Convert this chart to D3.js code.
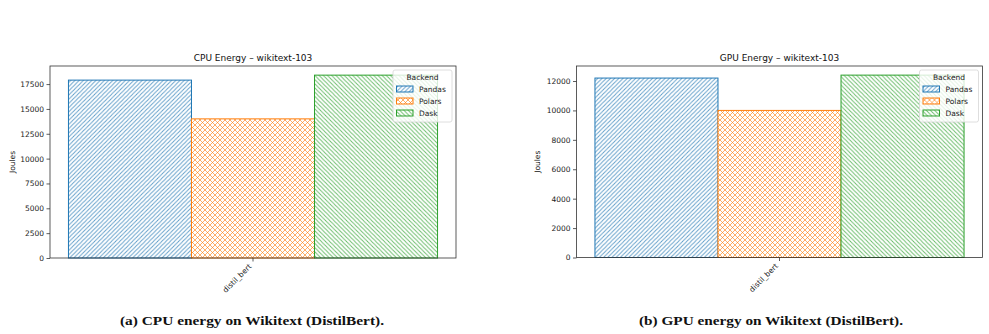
<!DOCTYPE html>
<html><head><meta charset="utf-8">
<script src="https://cdn.jsdelivr.net/npm/d3@7"></script>
<style>body{margin:0;background:#fff;} svg{display:block;}</style>
</head><body>
<svg id="chart" width="989" height="334"></svg>
<script>
const categories = ["distil_bert"];
const backends = ["Pandas", "Polars", "Dask"];
const cpuValues = [17900, 14000, 18400];
const gpuValues = [12200, 10000, 12400];
const cpuTicks = [0, 2500, 5000, 7500, 10000, 12500, 15000, 17500];
const gpuTicks = [0, 2000, 4000, 6000, 8000, 10000, 12000];
const titles = ["CPU Energy \u2013 wikitext-103", "GPU Energy \u2013 wikitext-103"];
const captions = ["(a) CPU energy on Wikitext (DistilBert).", "(b) GPU energy on Wikitext (DistilBert)."];
const colors = ["#1f77b4", "#ff7f0e", "#2ca02c"];
const hatches = ["/", "x", "\\"];

const svg = d3.select("#chart");
const defs = svg.append("defs");

function makePattern(id, type, color) {
  const s = type === "x" ? 5 : 4.2;
  const p = defs.append("pattern").attr("id", id).attr("patternUnits", "userSpaceOnUse")
    .attr("width", s).attr("height", s);
  p.append("rect").attr("width", s).attr("height", s).attr("fill", "#fff");
  let d;
  if (type === "/") d = `M0,${s} L${s},0 M${-s/2},${s/2} L${s/2},${-s/2} M${s/2},${s*1.5} L${s*1.5},${s/2}`;
  else if (type === "\\") d = `M0,0 L${s},${s} M${-s/2},${s/2} L${s/2},${s*1.5} M${s/2},${-s/2} L${s*1.5},${s/2}`;
  else d = `M0,0 L${s},${s} M0,${s} L${s},0`;
  p.append("path").attr("d", d).attr("stroke", color).attr("stroke-width", type === "x" ? 0.9 : 1.0)
    .attr("stroke-opacity", 0.7).attr("fill", "none");
}
backends.forEach((b, i) => makePattern("h" + i, hatches[i], colors[i]));

const panels = [
  {x0: 50, x1: 456, y0: 66, y1: 258, values: cpuValues, ticks: cpuTicks, ylabX: 12, title: titles[0], caption: captions[0], capX: 252},
  {x0: 576.5, x1: 982.5, y0: 66, y1: 257.5, values: gpuValues, ticks: gpuTicks, ylabX: 537, title: titles[1], caption: captions[1], capX: 771}
];

const font = "DejaVu Sans, sans-serif";

panels.forEach(P => {
  const g = svg.append("g");
  const ymax = d3.max(P.values) * 1.05;
  const y = d3.scaleLinear().domain([0, ymax]).range([P.y1, P.y0]);
  const xGroup = d3.scaleBand().domain(categories).range([P.x0, P.x1]).paddingInner(0).paddingOuter(0.05);
  const xSub = d3.scaleBand().domain(backends).range([0, xGroup.bandwidth()]);

  categories.forEach(cat => {
    backends.forEach((b, i) => {
      g.append("rect")
        .attr("x", xGroup(cat) + xSub(b))
        .attr("y", y(P.values[i]))
        .attr("width", xSub.bandwidth())
        .attr("height", y(0) - y(P.values[i]))
        .attr("fill", `url(#h${i})`)
        .attr("stroke", colors[i]).attr("stroke-width", 1);
    });
  });

  const yAxis = d3.axisLeft(y).tickValues(P.ticks).tickSize(3.5).tickPadding(2.5).tickFormat(d3.format("d"));
  const ya = g.append("g").attr("transform", `translate(${P.x0},0)`).call(yAxis);
  ya.select(".domain").remove();
  ya.selectAll("text").attr("font-family", font).attr("font-size", 7.5).attr("fill", "#222");
  ya.selectAll("line").attr("stroke", "#333").attr("stroke-width", 0.8);

  const xAxis = d3.axisBottom(xGroup).tickSize(3.5).tickPadding(2);
  const xa = g.append("g").attr("transform", `translate(0,${P.y1})`).call(xAxis);
  xa.select(".domain").remove();
  xa.selectAll("line").attr("stroke", "#333").attr("stroke-width", 0.8);
  xa.selectAll("text").attr("font-family", font).attr("font-size", 7.5).attr("fill", "#222")
    .attr("text-anchor", "end").attr("dy", null).attr("y", 0)
    .attr("transform", "translate(-1,9) rotate(-45)");

  g.append("rect").attr("x", P.x0).attr("y", P.y0).attr("width", P.x1 - P.x0).attr("height", P.y1 - P.y0)
    .attr("fill", "none").attr("stroke", "#333").attr("stroke-width", 0.8);

  g.append("text").attr("x", (P.x0 + P.x1) / 2).attr("y", P.y0 - 5).attr("text-anchor", "middle")
    .attr("font-family", font).attr("font-size", 9).attr("fill", "#111").text(P.title);

  g.append("text").attr("transform", `translate(${P.ylabX},${(P.y0 + P.y1) / 2}) rotate(-90)`)
    .attr("text-anchor", "middle").attr("dy", "0.35em")
    .attr("font-family", font).attr("font-size", 7.5).attr("fill", "#111").text("Joules");

  const lx = P.x1 - 63, ly = P.y0 + 4;
  const lg = g.append("g").attr("transform", `translate(${lx},${ly})`);
  lg.append("rect").attr("width", 59).attr("height", 52).attr("rx", 2)
    .attr("fill", "#fff").attr("fill-opacity", 0.8).attr("stroke", "#d5d5d5").attr("stroke-width", 0.8);
  lg.append("text").attr("x", 29.5).attr("y", 9.5).attr("text-anchor", "middle")
    .attr("font-family", font).attr("font-size", 7.5).attr("fill", "#222").text("Backend");
  backends.forEach((b, i) => {
    const yy = 16 + i * 12;
    lg.append("rect").attr("x", 3.5).attr("y", yy).attr("width", 16.5).attr("height", 6)
      .attr("fill", `url(#h${i})`).attr("stroke", colors[i]).attr("stroke-width", 1);
    lg.append("text").attr("x", 26).attr("y", yy + 6).attr("font-family", font).attr("font-size", 7.5)
      .attr("fill", "#222").text(b);
  });

  svg.append("text").attr("x", P.capX).attr("y", 325).attr("text-anchor", "middle")
    .attr("font-family", "Liberation Serif, serif").attr("font-weight", "bold").attr("font-size", 13.5)
    .attr("textLength", 264).attr("lengthAdjust", "spacingAndGlyphs")
    .attr("fill", "#111").text(P.caption);
});
</script>
</body></html>
